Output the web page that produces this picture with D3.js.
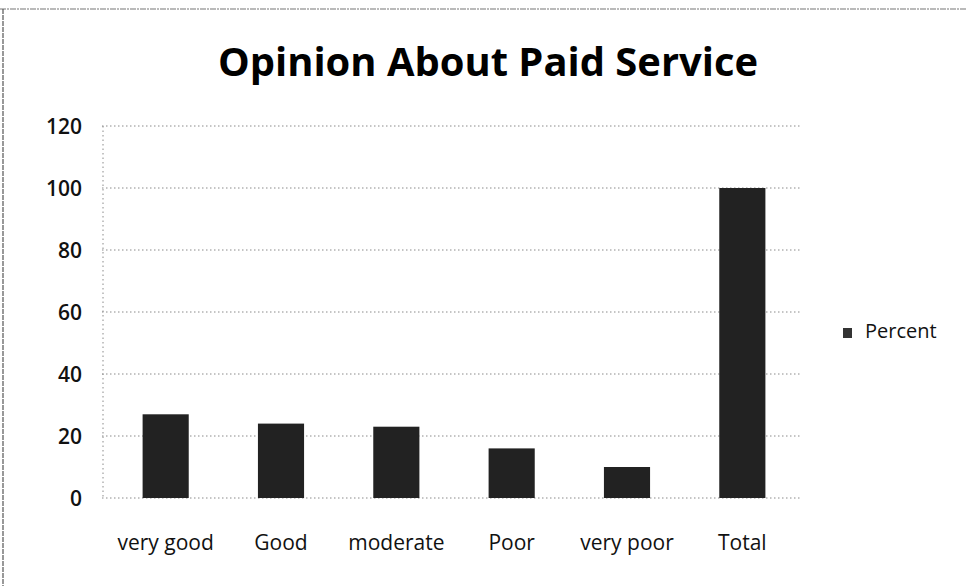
<!DOCTYPE html>
<html>
<head>
<meta charset="utf-8">
<script src="https://cdn.jsdelivr.net/npm/d3@7/dist/d3.min.js"></script>
<style>
  html, body { margin: 0; padding: 0; background: #fff; }
  svg { display: block; }
</style>
</head>
<body>
<svg id="chart" width="966" height="586"></svg>
<script>
// Opinion about paid service, percent of respondents
const categories = ["very good", "Good", "moderate", "Poor", "very poor", "Total"];
const percent = [27, 24, 23, 16, 10, 100];
const yTicks = [0, 20, 40, 60, 80, 100, 120];
const seriesName = "Percent";
const chartTitle = "Opinion About Paid Service";

const svg = d3.select("#chart");
const W = 966, H = 586;
const plot = { left: 108, right: 800, top: 126, bottom: 498 };
const font = "'Open Sans', Lato, sans-serif";

// chart frame
svg.append("line").attr("x1", 0).attr("x2", W).attr("y1", 9).attr("y2", 9)
  .attr("stroke", "#777").attr("stroke-width", 1.2).attr("stroke-dasharray", "6,1,2,1");
svg.append("line").attr("x1", 3).attr("x2", 3).attr("y1", 9).attr("y2", H)
  .attr("stroke", "#555").attr("stroke-width", 1.2).attr("stroke-dasharray", "5,1");

const x = d3.scaleBand().domain(categories).range([plot.left, plot.right]).paddingInner(0.6).paddingOuter(0.3);
const y = d3.scaleLinear().domain([0, 120]).range([plot.bottom, plot.top]);

// title
svg.append("text")
  .attr("x", 488).attr("y", 76)
  .attr("text-anchor", "middle")
  .attr("font-family", font)
  .attr("font-weight", "bold")
  .attr("font-size", 39)
  .attr("textLength", 540)
  .attr("lengthAdjust", "spacingAndGlyphs")
  .attr("fill", "#000")
  .text(chartTitle);

// dotted gridlines
svg.append("g").selectAll("line").data(yTicks).join("line")
  .attr("x1", plot.left - 6).attr("x2", plot.right)
  .attr("y1", d => y(d)).attr("y2", d => y(d))
  .attr("stroke", "#8a8a8a").attr("stroke-width", 1)
  .attr("stroke-dasharray", "1.5,2.5");

// dotted vertical axis line
svg.append("line")
  .attr("x1", plot.left - 5).attr("x2", plot.left - 5)
  .attr("y1", y(120)).attr("y2", y(0))
  .attr("stroke", "#8a8a8a").attr("stroke-dasharray", "1.5,3");

// y axis labels
const yAxis = d3.axisLeft(y).tickValues(yTicks).tickSize(0).tickPadding(0);
const gy = svg.append("g").attr("transform", `translate(82,0)`).call(yAxis);
gy.select(".domain").remove();
gy.selectAll("text")
  .attr("font-family", font)
  .attr("font-weight", 600)
  .attr("font-size", 21)
  .attr("fill", "#111")
  .attr("dy", "0.35em");

// bars
svg.append("g").selectAll("rect").data(categories).join("rect")
  .attr("x", d => x(d))
  .attr("width", x.bandwidth())
  .attr("y", (d, i) => y(percent[i]))
  .attr("height", (d, i) => y(0) - y(percent[i]))
  .attr("fill", "#222");

// x axis labels
const xAxis = d3.axisBottom(x).tickSize(0).tickPadding(0);
const gx = svg.append("g").attr("transform", `translate(0,550)`).call(xAxis);
gx.select(".domain").remove();
gx.selectAll("text")
  .attr("font-family", font)
  .attr("font-size", 21)
  .attr("fill", "#111")
  .attr("dy", "0");

// legend
const lg = svg.append("g").attr("transform", "translate(843,333)");
lg.append("rect").attr("x", 0).attr("y", -5).attr("width", 9).attr("height", 10).attr("fill", "#333");
lg.append("text").attr("x", 22).attr("y", 5)
  .attr("font-family", font)
  .attr("font-size", 20).attr("fill", "#111")
  .text(seriesName);
</script>
</body>
</html>
